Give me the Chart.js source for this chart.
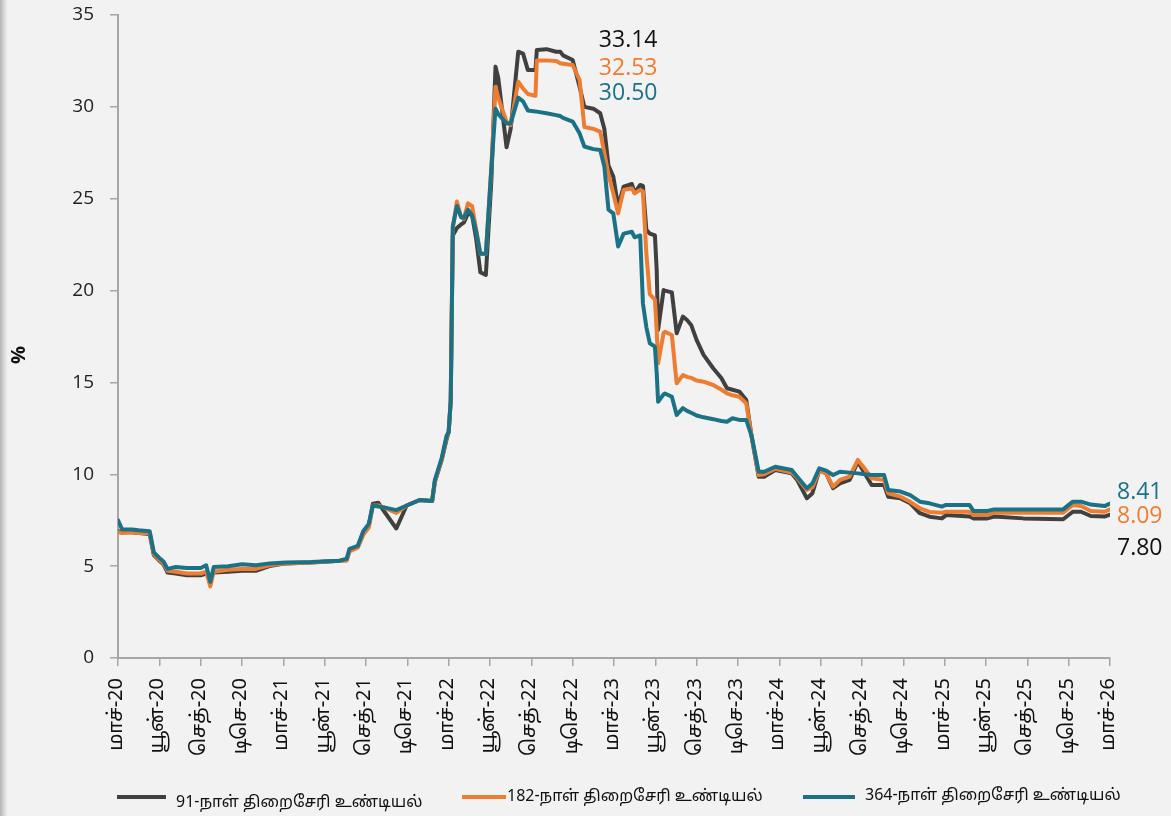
<!DOCTYPE html>
<html>
<head>
<meta charset="utf-8">
<script src="https://cdn.jsdelivr.net/npm/chart.js@4.4.1/dist/chart.umd.min.js"></script>
<style>
  html, body { margin: 0; padding: 0; }
  body {
    width: 1171px; height: 816px; overflow: hidden;
    background: linear-gradient(to right, #b4b4b4 0px, #d8d8d8 4px, #f2f2f2 8px, #f2f2f2 100%);
  }
  canvas { display: block; }
</style>
</head>
<body>
<canvas id="yieldChart" width="1171" height="816"></canvas>
<script>
// months since March 2020
const months = [
  0, 0.3, 1, 1.5, 2.3, 2.6, 3.0, 3.3, 3.6, 4.2, 5.0, 6.0, 6.4, 6.7, 6.95, 8.0, 9.0, 10.0, 11.0, 12.2,
  14.0, 16.1, 16.6, 16.8, 17.4, 17.8, 18.2, 18.5, 18.9, 19.3, 20.2, 20.95, 21.9, 22.8, 23.0, 23.5,
  23.85, 24.0, 24.15, 24.3, 24.6, 24.9, 25.1, 25.4, 25.7, 26.0, 26.3, 26.7, 27.1, 27.4, 27.6, 28.2,
  28.5, 29.05, 29.4, 29.75, 30.3, 30.4, 31.1, 31.8, 32.1, 32.3, 33.0, 33.5, 33.85, 34.5, 35.0, 35.3,
  35.6, 35.95, 36.3, 36.7, 37.3, 37.5, 37.9, 38.1, 38.35, 38.6, 38.97, 39.1, 39.2, 39.6, 39.7, 40.2,
  40.55, 41.0, 41.3, 41.6, 42.0, 42.5, 43.2, 43.8, 44.2, 44.6, 45.1, 45.6, 46.0, 46.5, 46.9, 47.7,
  48.9, 49.3, 50.0, 50.4, 50.9, 51.4, 51.9, 52.4, 53.1, 53.7, 54.2, 54.7, 55.6, 55.9, 56.8, 57.5,
  58.2, 58.9, 59.8, 60.1, 61.8, 62.1, 63.1, 63.6, 65.7, 68.6, 69.3, 69.9, 70.6, 71.6, 72
];

const bill91 = [
  6.9, 6.85, 6.85, 6.8, 6.75, 5.6, 5.3, 5.1, 4.65, 4.6, 4.5, 4.5, 4.6, 4.3, 4.65, 4.7, 4.75, 4.75, 5.0, 5.15,
  5.2, 5.3, 5.35, 5.85, 6.05, 6.8, 7.2, 8.4, 8.45, 8.0, 7.05, 8.3, 8.6, 8.55, 9.6, 10.8,
  11.9, 12.3, 14.0, 23.0, 23.4, 23.6, 23.7, 24.2, 24.1, 22.8, 21.0, 20.85, 26.0, 32.19, 31.57, 27.8,
  28.8, 33.0, 32.9, 32.0, 32.0, 33.1, 33.14, 33.0, 33.0, 32.8, 32.55, 31.1, 30.0, 29.9, 29.65, 28.8,
  26.8, 26.2, 24.57, 25.66, 25.8, 25.3, 25.75, 25.7, 23.3, 23.1, 23.0, 21.1, 17.86, 20.03, 20.0, 19.9,
  17.68, 18.58, 18.4, 18.13, 17.3, 16.5, 15.77, 15.23, 14.68, 14.6, 14.5, 14.04, 12.0, 9.87, 9.87, 10.23,
  10.05, 9.69, 8.69, 8.97, 10.23, 10.05, 9.24, 9.51, 9.69, 10.69, 10.05, 9.42, 9.42, 8.78, 8.69, 8.42,
  7.88, 7.69, 7.6, 7.78, 7.7, 7.6, 7.6, 7.7, 7.6, 7.55, 7.96, 7.96, 7.73, 7.7, 7.80
];

const bill182 = [
  6.85, 6.8, 6.85, 6.8, 6.8, 5.65, 5.35, 5.15, 4.75, 4.7, 4.6, 4.6, 4.7, 3.9, 4.7, 4.8, 4.85, 4.85, 5.05, 5.15,
  5.2, 5.3, 5.3, 5.8, 6.0, 6.7, 7.1, 8.3, 8.3, 8.2, 7.9, 8.3, 8.6, 8.55, 9.6, 10.8,
  12.0, 12.3, 14.0, 23.4, 24.85, 24.0, 23.9, 24.75, 24.6, 23.3, 22.0, 22.0, 26.7, 31.1, 30.5, 29.2,
  29.0, 31.37, 31.0, 30.7, 30.6, 32.53, 32.53, 32.5, 32.37, 32.35, 32.28, 31.46, 28.9, 28.8, 28.65, 27.5,
  26.3, 25.3, 24.2, 25.48, 25.56, 25.3, 25.48, 25.4, 22.0, 19.8, 19.5, 17.8, 16.04, 17.7, 17.76, 17.58,
  14.95, 15.4, 15.3, 15.25, 15.1, 15.04, 14.86, 14.6, 14.41, 14.3, 14.22, 13.86, 12.0, 9.96, 10.0, 10.3,
  10.1, 9.8, 9.15, 9.3, 10.2, 10.05, 9.33, 9.69, 9.87, 10.78, 10.3, 9.78, 9.69, 8.97, 8.78, 8.5,
  8.15, 7.95, 7.91, 7.96, 7.96, 7.78, 7.78, 7.91, 7.91, 7.91, 8.33, 8.27, 8.0, 7.96, 8.09
];

const bill364 = [
  7.5, 7.0, 7.0, 6.95, 6.9, 5.75, 5.45, 5.25, 4.85, 4.95, 4.9, 4.9, 5.05, 4.15, 4.95, 5.0, 5.1, 5.05, 5.15, 5.2,
  5.22, 5.3, 5.4, 5.94, 6.1, 6.9, 7.3, 8.3, 8.25, 8.2, 8.05, 8.3, 8.6, 8.55, 9.7, 10.9,
  12.1, 12.3, 14.0, 23.5, 24.6, 24.0, 23.95, 24.4, 24.1, 23.2, 22.0, 22.0, 26.7, 29.9, 29.6, 29.1,
  29.1, 30.5, 30.3, 29.8, 29.75, 29.74, 29.65, 29.55, 29.5, 29.4, 29.2, 28.56, 27.84, 27.7, 27.65, 26.75,
  24.4, 24.2, 22.4, 23.1, 23.2, 22.9, 23.0, 19.3, 18.0, 17.13, 16.95, 15.5, 13.95, 14.35, 14.4, 14.22,
  13.23, 13.6, 13.45, 13.35, 13.2, 13.1, 13.0, 12.9, 12.86, 13.05, 12.96, 12.96, 12.05, 10.14, 10.14, 10.41,
  10.23, 9.87, 9.24, 9.5, 10.32, 10.2, 9.96, 10.14, 10.09, 10.05, 10.0, 9.96, 9.96, 9.15, 9.06, 8.87,
  8.51, 8.42, 8.24, 8.33, 8.33, 8.0, 8.0, 8.09, 8.09, 8.09, 8.51, 8.51, 8.35, 8.27, 8.41
];

// x axis labels, one per quarter
const tickLabels = [
  "மாச்-20", "யூன்-20", "செத்-20", "டிசெ-20",
  "மாச்-21", "யூன்-21", "செத்-21", "டிசெ-21",
  "மாச்-22", "யூன்-22", "செத்-22", "டிசெ-22",
  "மாச்-23", "யூன்-23", "செத்-23", "டிசெ-23",
  "மாச்-24", "யூன்-24", "செத்-24", "டிசெ-24",
  "மாச்-25", "யூன்-25", "செத்-25", "டிசெ-25",
  "மாச்-26"
];

const seriesNames = ["91-நாள் திறைசேரி உண்டியல்", "182-நாள் திறைசேரி உண்டியல்", "364-நாள் திறைசேரி உண்டியல்"];
const seriesColors = ["#404040", "#ed7d31", "#1b7287"];

const tamilFont = "'Noto Sans Tamil', 'Latha', 'Lohit Tamil', 'Noto Sans', sans-serif";
const numFont = "'Open Sans', 'Noto Sans', sans-serif";

function toPoints(ys) {
  return ys.map((y, i) => ({ x: months[i], y: y }));
}

// value labels: peaks near the top, latest values at the right end
const valueLabels = {
  id: "valueLabels",
  afterDatasetsDraw(chart) {
    const ctx = chart.ctx;
    const xs = chart.scales.x;
    const ys = chart.scales.y;
    const sets = [bill91, bill182, bill364];
    const peakY = [33.6, 32.1, 30.75];
    const endY = [5.95, 7.73, 9.03];
    ctx.save();
    ctx.font = "23px " + numFont;
    ctx.textBaseline = "middle";
    ctx.textAlign = "left";
    sets.forEach((arr, i) => {
      ctx.fillStyle = i === 0 ? "#111111" : seriesColors[i];
      const peak = Math.max(...arr);
      ctx.fillText(peak.toFixed(2), xs.getPixelForValue(34.9), ys.getPixelForValue(peakY[i]));
      const last = arr[arr.length - 1];
      ctx.fillText(last.toFixed(2), xs.getPixelForValue(72) + 7, ys.getPixelForValue(endY[i]));
    });
    ctx.restore();
  }
};

// legend row under the axis labels, plus the rotated % title
const legendRow = {
  id: "legendRow",
  afterDraw(chart) {
    const ctx = chart.ctx;
    const items = [
      { x0: 117, x1: 166, tx: 176, ty: 804 },
      { x0: 462, x1: 506, tx: 507, ty: 798 },
      { x0: 803, x1: 855, tx: 865, ty: 797 }
    ];
    ctx.save();
    ctx.font = "16px " + tamilFont;
    ctx.textBaseline = "middle";
    items.forEach((it, i) => {
      ctx.strokeStyle = seriesColors[i];
      ctx.lineWidth = 4;
      ctx.beginPath();
      ctx.moveTo(it.x0, 797);
      ctx.lineTo(it.x1, 797);
      ctx.stroke();
      ctx.fillStyle = "#111111";
      ctx.fillText(seriesNames[i], it.tx, it.ty);
    });

    ctx.translate(19, 355);
    ctx.rotate(-Math.PI / 2);
    ctx.font = "bold 20px " + numFont;
    ctx.textAlign = "center";
    ctx.fillText("%", 0, 0);
    ctx.restore();
  }
};

const ctx = document.getElementById("yieldChart").getContext("2d");

const chart = new Chart(ctx, {
  type: "line",
  data: {
    datasets: [
      { label: seriesNames[0], data: toPoints(bill91), borderColor: seriesColors[0], order: 2 },
      { label: seriesNames[1], data: toPoints(bill182), borderColor: seriesColors[1], order: 1 },
      { label: seriesNames[2], data: toPoints(bill364), borderColor: seriesColors[2], order: 0 }
    ]
  },
  options: {
    responsive: false,
    animation: false,
    layout: { padding: { left: 0, right: 61, top: 15, bottom: 0 } },
    elements: {
      line: { borderWidth: 4, tension: 0, borderJoinStyle: "round", borderCapStyle: "round", fill: false },
      point: { radius: 0 }
    },
    plugins: {
      legend: { display: false },
      tooltip: { enabled: false }
    },
    scales: {
      x: {
        type: "linear",
        min: 0,
        max: 72,
        afterFit(scale) { scale.height = 158; },
        afterBuildTicks(scale) {
          scale.ticks = tickLabels.map((_, i) => ({ value: i * 3 }));
        },
        border: { color: "#a6a6a6", width: 2 },
        grid: { drawOnChartArea: false, drawTicks: true, tickLength: 8, color: "#a6a6a6", lineWidth: 1.5 },
        ticks: {
          autoSkip: false,
          maxRotation: 90,
          minRotation: 90,
          padding: 12,
          color: "#111111",
          font: { family: tamilFont, size: 20 },
          callback: (v) => tickLabels[Math.round(v / 3)]
        }
      },
      y: {
        min: 0,
        max: 35,
        afterFit(scale) {
          scale.width = 118;
          scale.paddingTop = 0;
          scale.paddingBottom = 0;
        },
        border: { color: "#a6a6a6", width: 2 },
        grid: { drawOnChartArea: false, drawTicks: true, tickLength: 8, color: "#a6a6a6", lineWidth: 1.5 },
        ticks: {
          stepSize: 5,
          padding: 16,
          color: "#222222",
          font: { family: numFont, size: 19 }
        }
      }
    }
  },
  plugins: [valueLabels, legendRow]
});
</script>
</body>
</html>
